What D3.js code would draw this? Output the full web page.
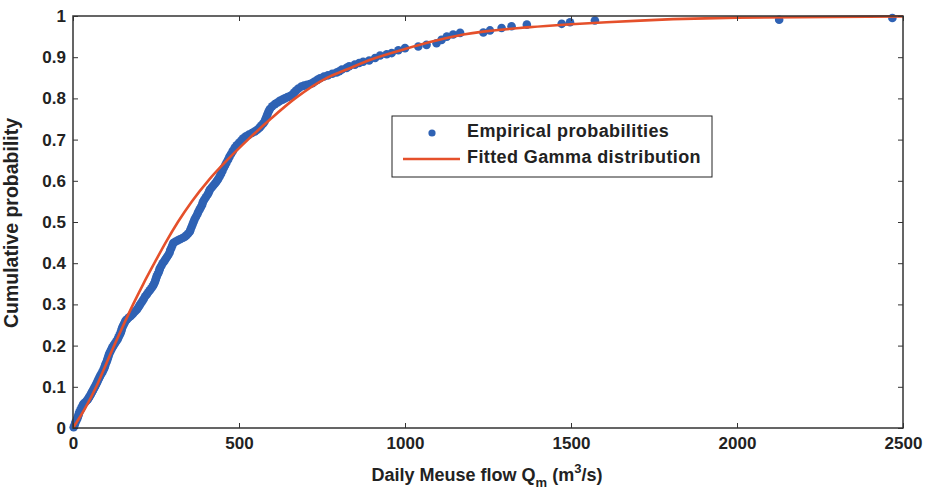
<!DOCTYPE html>
<html>
<head>
<meta charset="utf-8">
<script src="https://cdn.jsdelivr.net/npm/d3@7"></script>
<style>
  body { margin: 0; background: #fff; }
  text { font-family: "Liberation Sans", Arial, Helvetica, sans-serif; font-weight: bold; fill: #222; }
</style>
</head>
<body>
<div id="chart"></div>
<script>
// empirical probabilities: daily flow (m3/s) and cumulative probability
var empFlow = [2, 5, 7, 10, 13, 15, 17, 19, 22, 25, 28, 31, 36, 41, 45, 48, 51, 54, 57, 60,
  63, 66, 69, 72, 75, 78, 81, 84, 88, 91, 94, 96, 98, 101, 103, 105, 107, 109, 112, 115,
  118, 122, 126, 130, 134, 137, 140, 143, 145, 147, 149, 152, 155, 158, 163, 168, 174, 180, 186, 192,
  196, 200, 204, 209, 213, 217, 222, 226, 231, 236, 240, 243, 246, 248, 250, 252, 255, 258, 260, 262,
  266, 270, 275, 279, 283, 287, 291, 293, 296, 299, 302, 308, 315, 322, 330, 337, 342, 347, 352, 354,
  357, 360, 363, 366, 370, 374, 377, 381, 385, 389, 391, 395, 400, 405, 409, 412, 417, 422, 427, 432,
  437, 442, 446, 450, 454, 458, 462, 467, 471, 476, 481, 487, 493, 500, 507, 513, 521, 530, 539, 548,
  555, 562, 567, 573, 577, 580, 583, 586, 589, 593, 600, 608, 616, 623, 631, 638, 646, 654, 660, 666,
  672, 679, 688, 696, 705, 714, 721, 728, 736, 744, 756, 768, 781, 794, 802, 810, 824, 832, 849, 862,
  874, 892, 910, 925, 945, 960, 980, 1000, 1040, 1065, 1095, 1110, 1126, 1145, 1166, 1236, 1256, 1291, 1321, 1367,
  1472, 1497, 1572, 2127, 2468];
var empProb = [0.002, 0.008, 0.013, 0.018, 0.023, 0.028, 0.033, 0.038, 0.043, 0.048, 0.053, 0.058, 0.062, 0.066, 0.070, 0.074, 0.078, 0.082, 0.087, 0.091,
  0.096, 0.100, 0.105, 0.110, 0.115, 0.120, 0.125, 0.130, 0.135, 0.140, 0.145, 0.150, 0.155, 0.160, 0.165, 0.170, 0.175, 0.180, 0.185, 0.190,
  0.195, 0.200, 0.205, 0.210, 0.215, 0.220, 0.225, 0.230, 0.235, 0.240, 0.245, 0.250, 0.255, 0.260, 0.264, 0.268, 0.272, 0.277, 0.282, 0.287,
  0.292, 0.297, 0.302, 0.308, 0.313, 0.319, 0.324, 0.329, 0.334, 0.339, 0.344, 0.348, 0.353, 0.358, 0.363, 0.368, 0.373, 0.378, 0.383, 0.388,
  0.394, 0.400, 0.405, 0.410, 0.415, 0.420, 0.426, 0.432, 0.437, 0.443, 0.449, 0.452, 0.455, 0.458, 0.461, 0.464, 0.468, 0.472, 0.477, 0.482,
  0.488, 0.494, 0.500, 0.506, 0.512, 0.518, 0.524, 0.530, 0.536, 0.542, 0.548, 0.554, 0.560, 0.566, 0.572, 0.578, 0.583, 0.588, 0.593, 0.598,
  0.604, 0.611, 0.617, 0.624, 0.631, 0.637, 0.644, 0.651, 0.658, 0.665, 0.672, 0.680, 0.686, 0.692, 0.698, 0.703, 0.708, 0.712, 0.716, 0.720,
  0.724, 0.729, 0.734, 0.739, 0.744, 0.750, 0.756, 0.762, 0.768, 0.774, 0.781, 0.786, 0.790, 0.794, 0.797, 0.800, 0.803, 0.806, 0.809, 0.814,
  0.819, 0.824, 0.829, 0.831, 0.833, 0.835, 0.837, 0.841, 0.845, 0.849, 0.853, 0.856, 0.860, 0.863, 0.866, 0.870, 0.874, 0.878, 0.882, 0.886,
  0.889, 0.892, 0.898, 0.904, 0.907, 0.910, 0.917, 0.922, 0.926, 0.930, 0.934, 0.942, 0.950, 0.955, 0.959, 0.960, 0.965, 0.971, 0.975, 0.979,
  0.981, 0.985, 0.989, 0.991, 0.995];

// fitted gamma distribution
var fitFlow = [0, 38, 70, 97, 124, 152, 181, 212, 245, 279, 316, 358, 407, 464, 527, 595, 669, 765, 824, 900, 1000, 1176, 1377, 1500, 1607, 2000, 2500];
var fitProb = [0, 0.05, 0.10, 0.15, 0.20, 0.25, 0.30, 0.35, 0.40, 0.45, 0.50, 0.55, 0.60, 0.65, 0.70, 0.75, 0.80, 0.85, 0.87, 0.895, 0.92, 0.955, 0.973, 0.980, 0.985, 0.996, 0.999];

var xTicks = [0, 500, 1000, 1500, 2000, 2500];
var yTicks = [0, 0.1, 0.2, 0.3, 0.4, 0.5, 0.6, 0.7, 0.8, 0.9, 1];
var yTickLabels = ["0", "0.1", "0.2", "0.3", "0.4", "0.5", "0.6", "0.7", "0.8", "0.9", "1"];

var legendLabels = ["Empirical probabilities", "Fitted Gamma distribution"];

var blue = "#2f62b4", red = "#e5502b";

var margin = {top: 16, right: 27, bottom: 67, left: 73},
    width = 930 - margin.left - margin.right,
    height = 495 - margin.top - margin.bottom;

var x = d3.scaleLinear().domain([0, 2500]).range([0, width]);
var y = d3.scaleLinear().domain([0, 1]).range([height, 0]);

var svg = d3.select("#chart")
  .append("svg")
    .attr("width", 930)
    .attr("height", 495)
  .append("g")
    .attr("transform", "translate(" + margin.left + "," + margin.top + ")");

// empirical points
var emp = empFlow.map(function(q, i) { return {q: q, p: empProb[i]}; });
svg.append("g").selectAll("circle")
    .data(emp)
  .enter().append("circle")
    .attr("cx", d => x(d.q))
    .attr("cy", d => y(d.p))
    .attr("r", 4.3)
    .style("fill", blue);

// fitted curve
var fit = fitFlow.map(function(q, i) { return {q: q, p: fitProb[i]}; });
svg.append("path")
    .datum(fit)
    .attr("fill", "none")
    .attr("stroke", red)
    .attr("stroke-width", 2.6)
    .attr("d", d3.line().x(d => x(d.q)).y(d => y(d.p)).curve(d3.curveMonotoneX));

// axes, MATLAB style: ticks inside on all four sides
var axStroke = "#333";
function styleAxis(g) {
  g.select(".domain").remove();
  g.selectAll("line").attr("stroke", axStroke).attr("stroke-width", 1);
  g.selectAll("text").style("font-size", "17px").attr("fill", "#222");
}

svg.append("g")
    .attr("transform", "translate(0," + height + ")")
    .call(d3.axisBottom(x).tickValues(xTicks).tickSize(-5).tickPadding(9).tickFormat(d3.format("d")))
    .call(styleAxis);

svg.append("g")
    .call(d3.axisLeft(y).tickValues(yTicks).tickSize(-5).tickPadding(7).tickFormat((d, i) => yTickLabels[i]))
    .call(styleAxis);

svg.append("g")
    .call(d3.axisTop(x).tickValues(xTicks).tickSize(-5).tickFormat(""))
    .call(styleAxis);

svg.append("g")
    .attr("transform", "translate(" + width + ",0)")
    .call(d3.axisRight(y).tickValues(yTicks).tickSize(-5).tickFormat(""))
    .call(styleAxis);

svg.append("rect")
    .attr("width", width)
    .attr("height", height)
    .attr("fill", "none")
    .attr("stroke", axStroke)
    .attr("stroke-width", 1.5);

// axis titles
var xt = svg.append("text")
    .attr("x", width / 2 - 1)
    .attr("y", height + 53)
    .attr("text-anchor", "middle")
    .style("font-size", "18px");
xt.append("tspan").text("Daily Meuse flow Q");
xt.append("tspan").text("m").style("font-size", "13px").attr("dy", 6);
xt.append("tspan").text(" (m").attr("dy", -6);
xt.append("tspan").text("3").style("font-size", "13px").attr("dy", -8);
xt.append("tspan").text("/s)").attr("dy", 8);

svg.append("text")
    .attr("transform", "translate(" + (-55) + "," + (height / 2 + 1) + ") rotate(-90)")
    .attr("text-anchor", "middle")
    .style("font-size", "19.5px")
    .text("Cumulative probability");

// legend
var legend = svg.append("g")
    .attr("transform", "translate(" + (392 - margin.left) + "," + (116 - margin.top) + ")");

legend.append("rect")
    .attr("width", 320)
    .attr("height", 61)
    .attr("fill", "#fff")
    .attr("stroke", "#222")
    .attr("stroke-width", 1);

legend.append("circle")
    .attr("cx", 40)
    .attr("cy", 17)
    .attr("r", 3.6)
    .style("fill", blue);

legend.append("line")
    .attr("x1", 11).attr("x2", 68)
    .attr("y1", 43).attr("y2", 43)
    .attr("stroke", red)
    .attr("stroke-width", 2.6);

legend.selectAll(".lab")
    .data(legendLabels)
  .enter().append("text")
    .attr("class", "lab")
    .attr("x", 75)
    .attr("y", (d, i) => 21 + i * 26)
    .style("font-size", "18px")
    .style("letter-spacing", "0.4px")
    .text(d => d);
</script>
</body>
</html>
